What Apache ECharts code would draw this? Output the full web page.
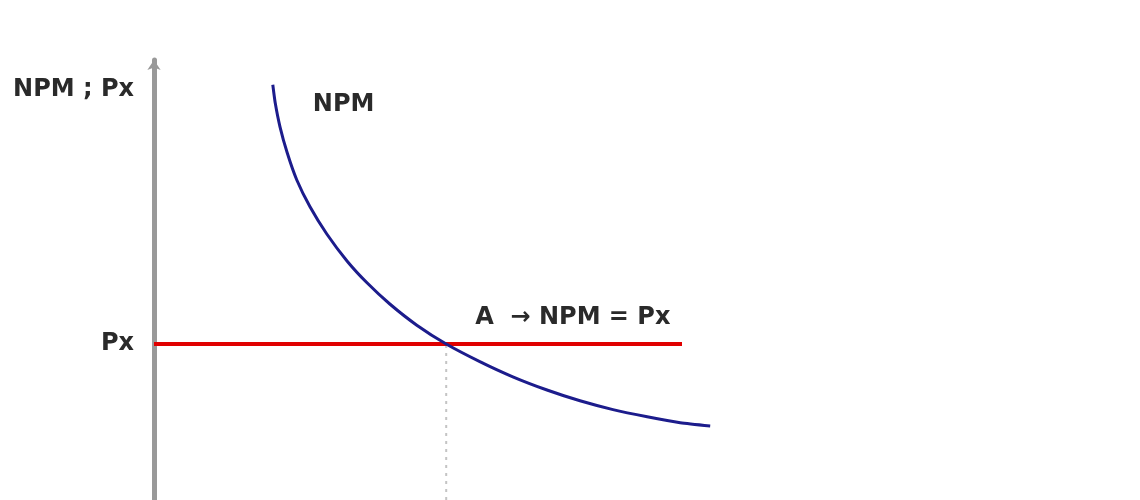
<!DOCTYPE html>
<html>
<head>
<meta charset="utf-8">
<script src="https://cdn.jsdelivr.net/npm/echarts@6/dist/echarts.min.js"></script>
<style>html,body{margin:0;padding:0;background:#fff;}#c{width:1140px;height:500px;}</style>
</head>
<body>
<div id="c"></div>
<script>
// NPM curve (quantity, value)
const npmX = [1.98, 2.02, 2.10, 2.22, 2.38, 2.60, 2.88, 3.22, 3.55, 3.93, 4.38, 4.87, 5.43, 5.98, 6.55, 7.10, 7.65, 8.22, 8.77, 9.27];
const npmY = [10.38, 9.93, 9.33, 8.68, 8.00, 7.33, 6.65, 5.97, 5.43, 4.90, 4.37, 3.90, 3.46, 3.08, 2.75, 2.48, 2.26, 2.08, 1.93, 1.85];
// Price line Px
const pxLevel = 3.9;
const pxStart = 0;
const pxEnd = 8.8;
// Equilibrium quantity (point A)
const eqX = 4.87;
// Text labels
const yAxisTitle = 'NPM ; Px';
const curveLabel = 'NPM';
const pxLabel = 'Px';
const eqLabel = 'A  \u2192 NPM = Px';

const font = {fontFamily: 'DejaVu Sans', fontWeight: 'bold', fontSize: 24, color: '#2a2a2a'};

const chart = echarts.init(document.getElementById('c'), null, {renderer: 'canvas'});
chart.setOption({
  animation: false,
  backgroundColor: '#ffffff',
  grid: {left: 154, top: 60, width: 600, height: 440},
  xAxis: {type: 'value', min: 0, max: 10, show: false},
  yAxis: {
    type: 'value', min: 0, max: 11,
    name: yAxisTitle, nameLocation: 'end', nameGap: -30,
    nameTextStyle: Object.assign({align: 'right', verticalAlign: 'middle', padding: [0, 20, 0, 0]}, font),
    axisLine: {show: true, symbol: ['none', 'arrow'], symbolSize: [10, 10], lineStyle: {color: '#999999', width: 5}},
    axisTick: {show: false}, axisLabel: {show: false}, splitLine: {show: false}
  },
  series: [
    {
      type: 'line', silent: true, symbol: 'none',
      data: [[eqX, 0], [eqX, pxLevel]],
      lineStyle: {color: '#c4c4c4', width: 2, type: [3, 5]}
    },
    {
      type: 'line', silent: true, showSymbol: true, symbolSize: 0,
      data: [
        {value: [pxStart, pxLevel], label: Object.assign({show: true, position: 'left', distance: 20, formatter: pxLabel}, font)},
        {value: [eqX, pxLevel], label: Object.assign({show: true, position: 'right', distance: 0, offset: [29, -26], formatter: eqLabel}, font)},
        [pxEnd, pxLevel]
      ],
      lineStyle: {color: '#e00000', width: 4}
    },
    {
      type: 'line', silent: true, smooth: 0.2, showSymbol: true, symbolSize: 0,
      data: npmX.map((x, i) => i === 0
        ? {value: [x, npmY[i]], label: Object.assign({show: true, position: 'right', distance: 0, offset: [40, 20], formatter: curveLabel}, font)}
        : [x, npmY[i]]),
      lineStyle: {color: '#1c1c8c', width: 3}
    }
  ]
});
</script>
</body>
</html>
